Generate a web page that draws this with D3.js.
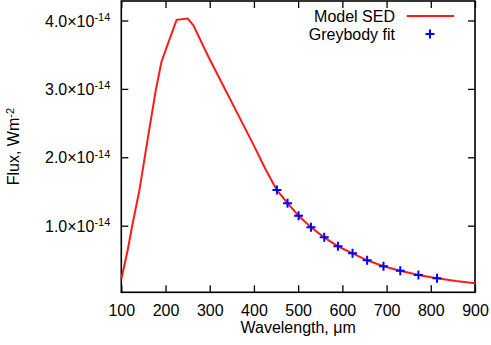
<!DOCTYPE html>
<html>
<head>
<meta charset="utf-8">
<script src="https://cdn.jsdelivr.net/npm/d3@7"></script>
<style>
    body { margin: 0; background: #fff; }
    svg { font-family: "Liberation Sans", Arial, Helvetica, sans-serif; }
</style>
</head>
<body>
<div id="chart"></div>
<script>
// model SED curve (wavelength in um, flux in W m^-2)
const sedWave = [100, 114.5, 125, 141, 160, 178, 191, 225, 250, 263, 297, 400, 425,
    452, 476, 501, 529, 559, 590, 623, 656, 693, 731, 772, 814, 857, 900];
const sedFlux = [0.216e-14, 0.645e-14, 1.01e-14, 1.52e-14, 2.28e-14, 2.98e-14, 3.40e-14, 4.01e-14,
    4.03e-14, 3.93e-14, 3.47e-14, 2.17e-14, 1.84e-14, 1.52e-14, 1.33e-14, 1.146e-14,
    0.977e-14, 0.830e-14, 0.699e-14, 0.596e-14, 0.494e-14, 0.406e-14, 0.342e-14, 0.279e-14,
    0.231e-14, 0.19e-14, 0.158e-14];

// greybody fit points
const fitWave = [452, 476, 501, 529, 559, 590, 623, 656, 693, 731, 772, 814];
const fitFlux = [1.522e-14, 1.327e-14, 1.146e-14, 0.977e-14, 0.830e-14, 0.699e-14, 0.596e-14,
    0.494e-14, 0.406e-14, 0.342e-14, 0.279e-14, 0.231e-14];

const xTicks = [100, 200, 300, 400, 500, 600, 700, 800, 900];
const yTicks = [1e-14, 2e-14, 3e-14, 4e-14];
const legendLabels = ['Model SED', 'Greybody fit'];

const W = 491, H = 345;
const plotL = 121.3, plotR = 475, plotT = 1, plotB = 292.3;
const fontMain = '16px';
const fontSup = '11px';

let svg = d3.select('#chart').append('svg')
    .attr('width', W)
    .attr('height', H);

let x = d3.scaleLinear().domain([100, 900]).range([plotL, plotR]);
let y = d3.scaleLinear().domain([0.026e-14, 4.285e-14]).range([plotB, plotT]);

// axes, ticks pointing inward
let xAxis = svg.append('g')
    .attr('transform', `translate(0, ${plotB})`)
    .call(d3.axisBottom(x).tickValues(xTicks).tickSize(-7).tickPadding(12.5));
svg.append('g')
    .attr('transform', `translate(0, ${plotT})`)
    .call(d3.axisTop(x).tickValues(xTicks).tickSize(-7).tickFormat(''));
let yAxis = svg.append('g')
    .attr('transform', `translate(${plotL}, 0)`)
    .call(d3.axisLeft(y).tickValues(yTicks).tickSize(-7).tickPadding(11).tickFormat(''));
svg.append('g')
    .attr('transform', `translate(${plotR}, 0)`)
    .call(d3.axisRight(y).tickValues(yTicks).tickSize(-7).tickFormat(''));

svg.selectAll('.domain').remove();
svg.selectAll('.tick line').attr('stroke', '#000').attr('stroke-width', 1.3);

xAxis.selectAll('.tick text')
    .attr('fill', '#000')
    .style('font-size', fontMain)
    .style('font-family', '"Liberation Sans", Arial, sans-serif');

// y tick labels like 4.0x10^-14
yAxis.selectAll('.tick text').each(function(d) {
    let t = d3.select(this)
        .attr('fill', '#000')
        .attr('dy', '0.35em')
        .style('font-size', fontMain)
        .style('font-family', '"Liberation Sans", Arial, sans-serif');
    t.append('tspan').text(`${(d / 1e-14).toFixed(1)}\u00d710`);
    t.append('tspan').text('-14')
        .attr('dy', '-0.5em')
        .style('font-size', fontSup);
});

// frame
svg.append('rect')
    .attr('x', plotL)
    .attr('y', plotT)
    .attr('width', plotR - plotL)
    .attr('height', plotB - plotT)
    .attr('fill', 'none')
    .attr('stroke', '#000')
    .attr('stroke-width', 1.6);

// model curve
let line = d3.line()
    .x((d, i) => x(sedWave[i]))
    .y(d => y(d));
svg.append('path')
    .datum(sedFlux)
    .attr('d', line)
    .attr('fill', 'none')
    .attr('stroke', '#ff1a1a')
    .attr('stroke-width', 2);

// greybody fit pluses
const plus = 'M-4.5,0H4.5M0,-4.5V4.5';
svg.selectAll('.fitPt')
    .data(fitFlux)
    .enter()
    .append('path')
    .attr('class', 'fitPt')
    .attr('transform', (d, i) => `translate(${x(fitWave[i])}, ${y(d)})`)
    .attr('d', plus)
    .attr('stroke', '#0000ff')
    .attr('stroke-width', 2);

// legend
svg.append('text')
    .text(legendLabels[0])
    .attr('x', 395)
    .attr('y', 16)
    .attr('dy', '0.35em')
    .attr('text-anchor', 'end')
    .style('font-size', fontMain);
svg.append('line')
    .attr('x1', 406.7).attr('x2', 454)
    .attr('y1', 16).attr('y2', 16)
    .attr('stroke', '#ff1a1a')
    .attr('stroke-width', 2);
svg.append('text')
    .text(legendLabels[1])
    .attr('x', 395)
    .attr('y', 34)
    .attr('dy', '0.35em')
    .attr('text-anchor', 'end')
    .style('font-size', fontMain);
svg.append('path')
    .attr('transform', 'translate(430, 34)')
    .attr('d', plus)
    .attr('stroke', '#0000ff')
    .attr('stroke-width', 2);

// axis titles
svg.append('text')
    .text('Wavelength, \u03bcm')
    .attr('x', (plotL + plotR) / 2)
    .attr('y', 333)
    .attr('text-anchor', 'middle')
    .style('font-size', fontMain);
let yt = svg.append('text')
    .attr('transform', `translate(19, ${(plotT + plotB) / 2}) rotate(-90)`)
    .attr('text-anchor', 'middle')
    .style('font-size', fontMain);
yt.append('tspan').text('Flux, Wm');
yt.append('tspan').text('-2').attr('dy', '-0.5em').style('font-size', fontSup);
</script>
</body>
</html>
